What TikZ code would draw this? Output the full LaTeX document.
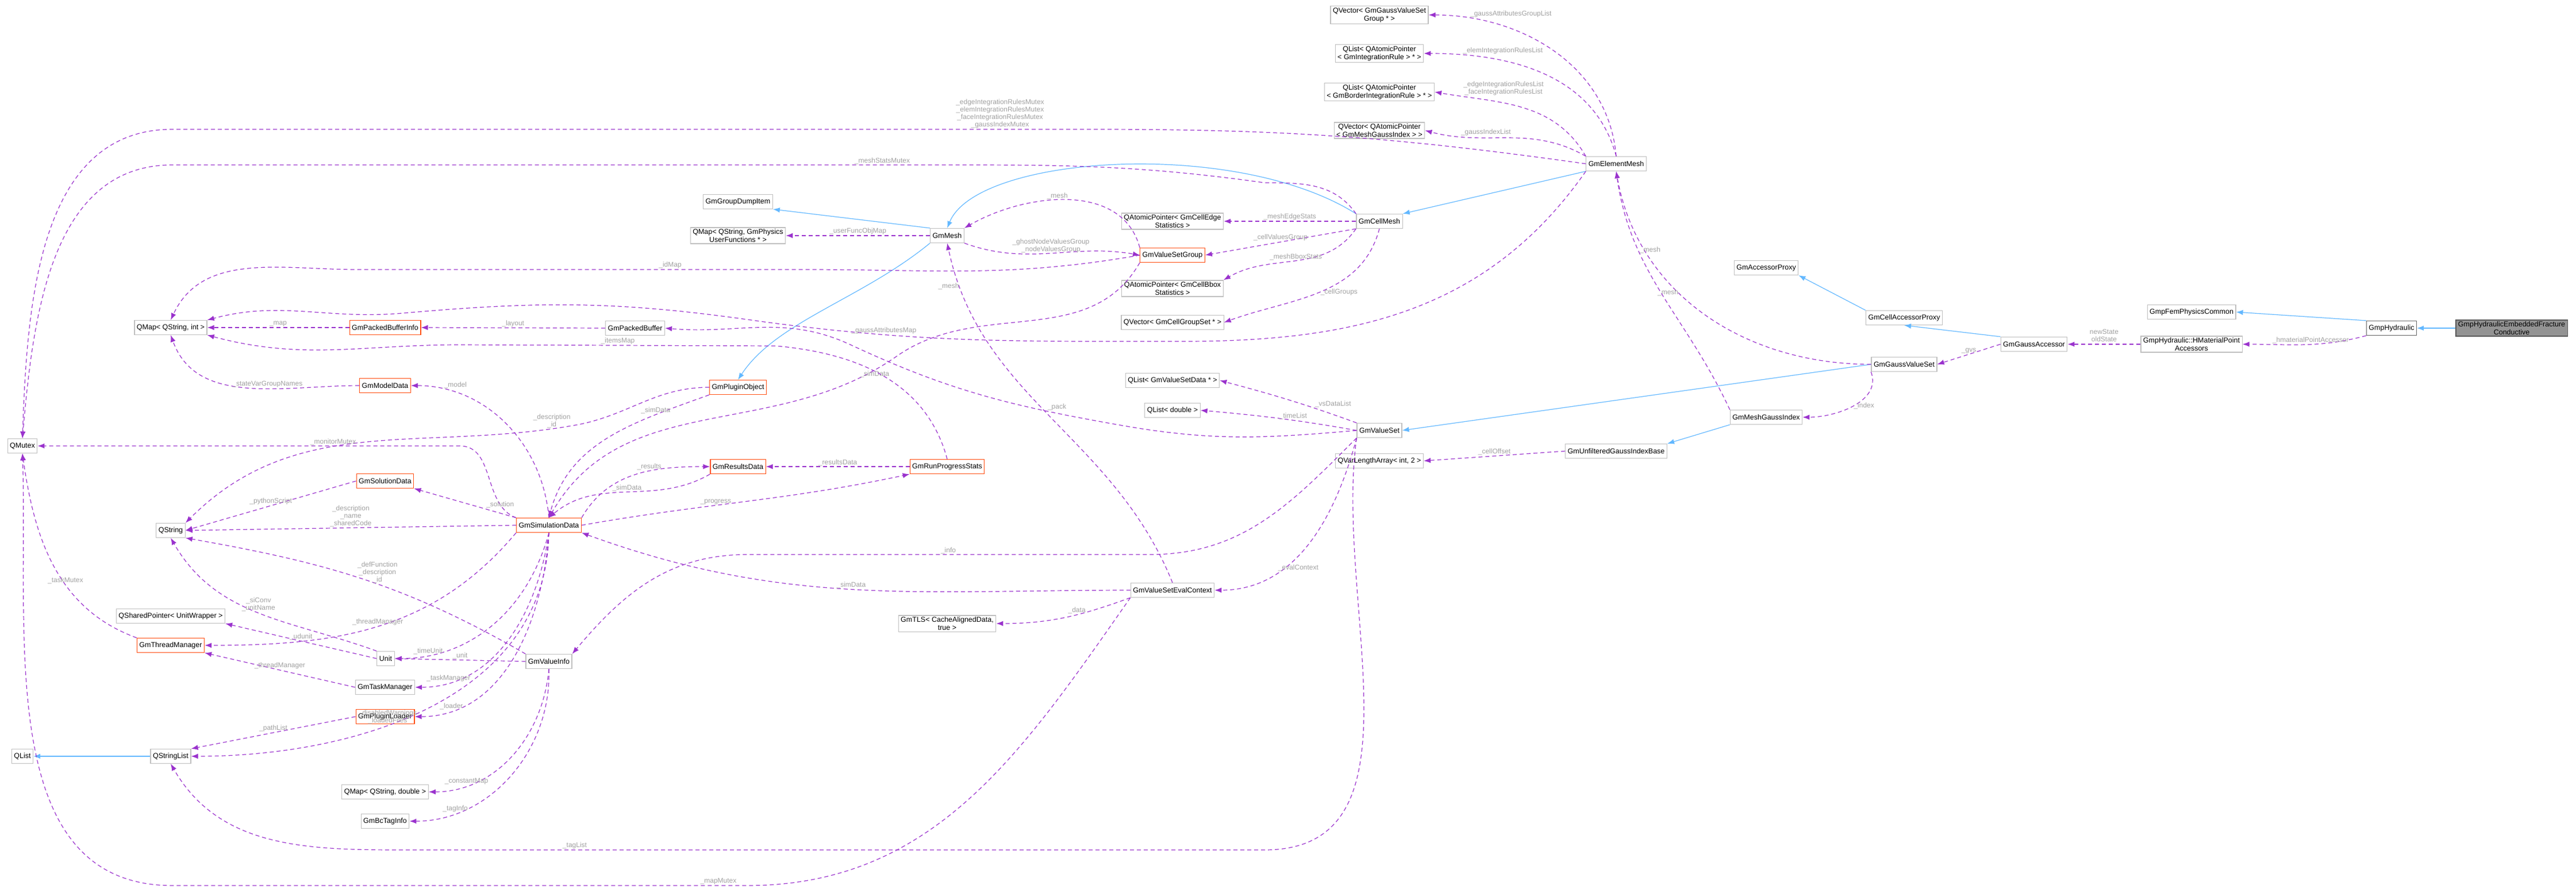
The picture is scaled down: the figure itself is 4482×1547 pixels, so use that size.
\documentclass[tikz,border=0pt]{standalone}
\usepackage{fontspec}
\setmainfont{Liberation Sans}
\usetikzlibrary{arrows.meta}
\definecolor{ub}{RGB}{154,50,205}
\definecolor{ib}{RGB}{99,184,255}
\definecolor{bx}{RGB}{191,191,191}
\definecolor{rb}{RGB}{255,80,20}
\definecolor{lg}{RGB}{160,160,160}
\begin{document}
\begin{tikzpicture}[x=1pt,y=-1pt,
 box/.style={draw=bx,line width=1.2pt,fill=white,font=\fontsize{12.5}{14}\selectfont,inner xsep=4pt,inner ysep=2.5pt,minimum height=25pt,align=center},
 red/.style={box,draw=rb},
 use/.style={draw=ub,dashed,dash pattern=on 7pt off 5pt,line width=1.2pt,-{Latex[length=12pt,width=9pt]}},
 inh/.style={draw=ib,line width=1.2pt,-{Latex[length=12pt,width=9pt]}},
 lbl/.style={font=\fontsize{12}{13}\selectfont,text=lg,align=center,inner sep=1pt}]
\useasboundingbox (0,0) rectangle (4482,1547);
% nodes
\node[box] (qvgvs) at (2400,26) {QVector< GmGaussValueSet\\Group * >};
\node[box] (qlir) at (2400,93) {QList< QAtomicPointer\\< GmIntegrationRule > * >};
\node[box] (qlbir) at (2400,160) {QList< QAtomicPointer\\< GmBorderIntegrationRule > * >};
\node[box] (qvmgi) at (2400,227) {QVector< QAtomicPointer\\< GmMeshGaussIndex > >};
\node[box] (em) at (2812,285) {GmElementMesh};
\node[box] (gdi) at (1284,351) {GmGroupDumpItem};
\node[box] (qmufo) at (1284,410) {QMap< QString, GmPhysics\\UserFunctions * >};
\node[box] (mesh) at (1648,410) {GmMesh};
\node[box] (qace) at (2040,385) {QAtomicPointer< GmCellEdge\\Statistics >};
\node[red] (vsg) at (2040,444) {GmValueSetGroup};
\node[box] (qacb) at (2040,502) {QAtomicPointer< GmCellBbox\\Statistics >};
\node[box] (qvcgs) at (2040,561) {QVector< GmCellGroupSet * >};
\node[box] (cm) at (2400,385) {GmCellMesh};
\node[box] (qmutex) at (39,776) {QMutex};
\node[box] (qmsi) at (297,570) {QMap< QString, int >};
\node[red] (pbi) at (670,570) {GmPackedBufferInfo};
\node[box] (pb) at (1105,571) {GmPackedBuffer};
\node[red] (md) at (670,671) {GmModelData};
\node[red] (po) at (1284,674) {GmPluginObject};
\node[box] (qstring) at (297,923) {QString};
\node[red] (sol) at (670,837) {GmSolutionData};
\node[red] (sim) at (955,914) {GmSimulationData};
\node[box] (qsp) at (297,1072) {QSharedPointer< UnitWrapper >};
\node[red] (tm) at (297,1123) {GmThreadManager};
\node[box] (unit) at (671,1146) {Unit};
\node[box] (vi) at (955,1151) {GmValueInfo};
\node[box] (task) at (670,1196) {GmTaskManager};
\node[red] (pl) at (670,1247) {GmPluginLoader};
\node[box] (qlist) at (39,1316) {QList};
\node[box] (qsl) at (297,1316) {QStringList};
\node[box] (qmsd) at (670,1378) {QMap< QString, double >};
\node[box] (bct) at (670,1429) {GmBcTagInfo};
\node[red] (rd) at (1284,812) {GmResultsData};
\node[red] (rps) at (1648,812) {GmRunProgressStats};
\node[box] (qlvsd) at (2040,662) {QList< GmValueSetData * >};
\node[box] (qld) at (2040,714) {QList< double >};
\node[box] (vsec) at (2040,1027) {GmValueSetEvalContext};
\node[box] (tls) at (1648,1085) {GmTLS< CacheAlignedData,\\true >};
\node[box] (vs) at (2400,749) {GmValueSet};
\node[box] (qvla) at (2400,802) {QVarLengthArray< int, 2 >};
\node[box] (ugib) at (2812,785) {GmUnfilteredGaussIndexBase};
\node[box] (mgi) at (3073,726) {GmMeshGaussIndex};
\node[box] (gvs) at (3313,634) {GmGaussValueSet};
\node[box] (cap) at (3313,553) {GmCellAccessorProxy};
\node[box] (ap) at (3073,466) {GmAccessorProxy};
\node[box] (ga) at (3539,599) {GmGaussAccessor};
\node[box] (hmpa) at (3813,599) {GmpHydraulic::HMaterialPoint\\Accessors};
\node[box] (fpc) at (3813,543) {GmpFemPhysicsCommon};
\node[box,draw=gray!80!black] (hyd) at (4161,571) {GmpHydraulic};
\node[box,fill=gray!85,draw=gray!70!black] (efc) at (4370,571) {GmpHydraulicEmbeddedFracture\\Conductive};
% inheritance
\draw[inh] (efc.west) -- (hyd.east);
\draw[inh] (hyd.north west) -- (fpc.east);
\draw[inh] (ga.north west) -- (cap.south);
\draw[inh] (cap.north west) -- (ap.south east);
\draw[inh] (gvs.west) -- (vs.east);
\draw[inh] (mgi.south west) -- (ugib.north east);
\draw[inh] (em.south west) -- (cm.north east);
\draw[inh] (cm.north west) .. controls (2150,240) and (1700,270) .. (mesh.north);
\draw[inh] (mesh.north west) -- (gdi.south east);
\draw[inh] (mesh.south west) .. controls (1500,520) and (1350,560) .. (po.north);
\draw[inh] (qsl.west) -- (qlist.east);
% usage
\draw[use] (hyd.south west) to[out=195,in=0] node[lbl,above,pos=0.45]{\_hmaterialPointAccessor} (hmpa.east);
\draw[use] (hmpa.west) -- node[lbl,above=3pt]{newState\\oldState} (ga.east);
\draw[use] (ga.west) -- node[lbl,above]{\_gvs} (gvs.east);
\draw[use] (gvs.south west) to[out=290,in=0] node[lbl,right,pos=0.5]{\_index} (mgi.east);
\draw[use] (gvs.west) to[out=180,in=-80] node[lbl,left,pos=0.6]{\_mesh} (em.south);
\draw[use] (mgi.north west) to[out=115,in=-82] node[lbl,right,pos=0.7]{\_mesh} (em.south);
\draw[use] (ugib.west) -- node[lbl,above]{\_cellOffset} (qvla.east);
\draw[use] (em.north) to[out=95,in=0] node[lbl,above right,pos=0.85]{\_gaussAttributesGroupList} (qvgvs.east);
\draw[use] (em.north) to[out=105,in=0] node[lbl,above right,pos=0.85]{\_elemIntegrationRulesList} (qlir.east);
\draw[use] (em.north west) to[out=120,in=-10] node[lbl,above right,pos=0.85]{\_edgeIntegrationRulesList\\\_faceIntegrationRulesList} (qlbir.east);
\draw[use] (em.north west) to[out=150,in=-15] node[lbl,above right,pos=0.8]{\_gaussIndexList} (qvmgi.east);
\draw[use] (em.west) to[out=172,in=0] (1900,225) -- node[lbl,above,pos=0.1]{\_edgeIntegrationRulesMutex\\\_elemIntegrationRulesMutex\\\_faceIntegrationRulesMutex\\\_gaussIndexMutex} (300,225) to[out=180,in=88] (qmutex.north);
\draw[use] (em.south west) to[out=235,in=0] (2060,594) to[out=180,in=-8] node[lbl,above,pos=0.7]{\_gaussAttributesMap} (1300,556) to[out=172,in=5] (700,545) to[out=185,in=15] (qmsi.north east);
\draw[use] (cm.north west) to[out=125,in=0] (2200,318) to[out=172,in=0] (1600,287) -- node[lbl,above,pos=0.05]{\_meshStatsMutex} (300,287) to[out=180,in=85] (qmutex.north);
\draw[use] (cm.west) -- node[lbl,above]{\_meshEdgeStats} (qace.east);
\draw[use] (cm.south west) -- node[lbl,above,pos=0.5]{\_cellValuesGroup} (vsg.east);
\draw[use] (cm.south west) to[out=235,in=30] node[lbl,above,pos=0.5]{\_meshBboxStats} (qacb.north east);
\draw[use] (cm.south) to[out=255,in=20] node[lbl,right,pos=0.5]{\_cellGroups} (qvcgs.east);
\draw[use] (mesh.west) -- node[lbl,above]{\_userFuncObjMap} (qmufo.east);
\draw[use] (mesh.south east) to[out=-20,in=170] node[lbl,above,pos=0.5]{\_ghostNodeValuesGroup\\\_nodeValuesGroup} (vsg.west);
\draw[use] (vsg.north west) to[out=105,in=30] node[lbl,above,pos=0.55]{\_mesh} (mesh.north east);
\draw[use] (vsg.west) to[out=190,in=0] (1400,469) -- node[lbl,above,pos=0.3]{\_idMap} (620,469) to[out=180,in=65] (qmsi.north);
\draw[use] (vsg.south west) to[out=240,in=35] (1560,620) to[out=215,in=60] node[lbl,above right,pos=0.1]{\_simData} (sim.north);
\draw[use] (vs.west) to[out=185,in=-10] (1950,740) to[out=170,in=-25] node[lbl,above right,pos=0.25]{\_pack} (1480,600) to[out=155,in=-5] (pb.east);
\draw[use] (pb.west) -- node[lbl,above]{\_layout} (pbi.east);
\draw[use] (pbi.west) -- node[lbl,above]{\_map} (qmsi.east);
\draw[use] (rps.north) to[out=105,in=-5] (1350,602) -- node[lbl,above]{\_itemsMap} (800,600) to[out=180,in=-15] (qmsi.south east);
\draw[use] (rps.west) -- node[lbl,above]{\_resultsData} (rd.east);
\draw[use] (sim.north east) to[out=60,in=180] node[lbl,above,pos=0.6]{\_results} (rd.west);
\draw[use] (rd.south west) to[out=210,in=40] node[lbl,above,pos=0.5]{\_simData} (sim.north);
\draw[use] (sim.east) to[out=10,in=192] node[lbl,above,pos=0.4]{\_progress} (rps.south west);
\draw[use] (po.west) to[out=180,in=10] (1000,740) to[out=190,in=45] node[lbl,above,pos=0.05]{\_description\\\_id} (qstring.north east);
\draw[use] (po.south west) to[out=200,in=75] node[lbl,above,pos=0.25]{\_simData} (sim.north);
\draw[use] (md.west) to[out=180,in=-70] node[lbl,above,pos=0.4]{\_stateVarGroupNames} (qmsi.south);
\draw[use] (sim.north) to[out=95,in=0] node[lbl,above right,pos=0.85]{\_model} (md.east);
\draw[use] (sim.north west) to[out=160,in=0] (800,776) -- node[lbl,above,pos=0.3]{\_monitorMutex} (qmutex.east);
\draw[use] (sim.north west) -- node[lbl,above right,pos=0.3]{\_solution} (sol.south east);
\draw[use] (sol.west) -- node[lbl,above]{\_pythonScript} (qstring.east);
\draw[use] (sim.west) -- node[lbl,above]{\_description\\\_name\\\_sharedCode} (qstring.east);
\draw[use] (vi.north west) to[out=150,in=-10] node[lbl,above,pos=0.45]{\_defFunction\\\_description\\\_id} (qstring.south east);
\draw[use] (unit.north west) to[out=160,in=-60] node[lbl,above,pos=0.5]{\_siConv\\\_unitName} (qstring.south);
\draw[use] (sim.south west) to[out=230,in=0] node[lbl,above,pos=0.5]{\_threadManager} (tm.east);
\draw[use] (unit.west) -- node[lbl,above]{\_udunit} (qsp.south east);
\draw[use] (tm.north west) to[out=160,in=-82] node[lbl,above,pos=0.4]{\_taskMutex} (qmutex.south);
\draw[use] (task.west) -- node[lbl,above]{\_threadManager} (tm.south east);
\draw[use] (sim.south) to[out=255,in=0] node[lbl,above,pos=0.85]{\_timeUnit} (unit.east);
\draw[use] (vi.west) -- node[lbl,above]{\_unit} (unit.east);
\draw[use] (sim.south) to[out=262,in=0] node[lbl,above,pos=0.85]{\_taskManager} (task.east);
\draw[use] (sim.south) to[out=266,in=0] node[lbl,above,pos=0.85]{\_loader} (pl.east);
\draw[use] (pl.west) -- node[lbl,above]{\_pathList} (qsl.north east);
\draw[use] (sim.south) to[out=269,in=0] node[lbl,above,pos=0.6]{\_disabledWarnings\\\_loadedFiles} (qsl.east);
\draw[use] (vi.south) to[out=265,in=0] node[lbl,above,pos=0.8]{\_constantMap} (qmsd.east);
\draw[use] (vi.south) to[out=272,in=0] node[lbl,above,pos=0.8]{\_tagInfo} (bct.east);
\draw[use] (vs.south west) to[out=262,in=0] (2200,1479) -- node[lbl,above,pos=0.8]{\_tagList} (700,1479) to[out=180,in=-60] (qsl.south);
\draw[use] (vsec.south west) to[out=235,in=0] (1300,1541) -- node[lbl,above,pos=0.05]{\_mapMutex} (300,1541) to[out=180,in=-88] (qmutex.south);
\draw[use] (vs.south west) to[out=225,in=0] (2000,965) -- node[lbl,above,pos=0.5]{\_info} (1300,965) to[out=180,in=50] (vi.north east);
\draw[use] (vsec.west) to[out=180,in=-20] node[lbl,above,pos=0.5]{\_simData} (sim.south east);
\draw[use] (vsec.north) to[out=112,in=-78] node[lbl,left,pos=0.9]{\_mesh} (mesh.south);
\draw[use] (vsec.south west) to[out=200,in=0] node[lbl,above,pos=0.4]{\_data} (tls.east);
\draw[use] (vs.south west) to[out=255,in=0] node[lbl,above right,pos=0.7]{\_evalContext} (vsec.east);
\draw[use] (vs.north west) to[out=160,in=-15] node[lbl,above right,pos=0.3]{\_vsDataList} (qlvsd.east);
\draw[use] (vs.west) to[out=170,in=-5] node[lbl,above,pos=0.4]{\_timeList} (qld.east);
\end{tikzpicture}
\end{document}
